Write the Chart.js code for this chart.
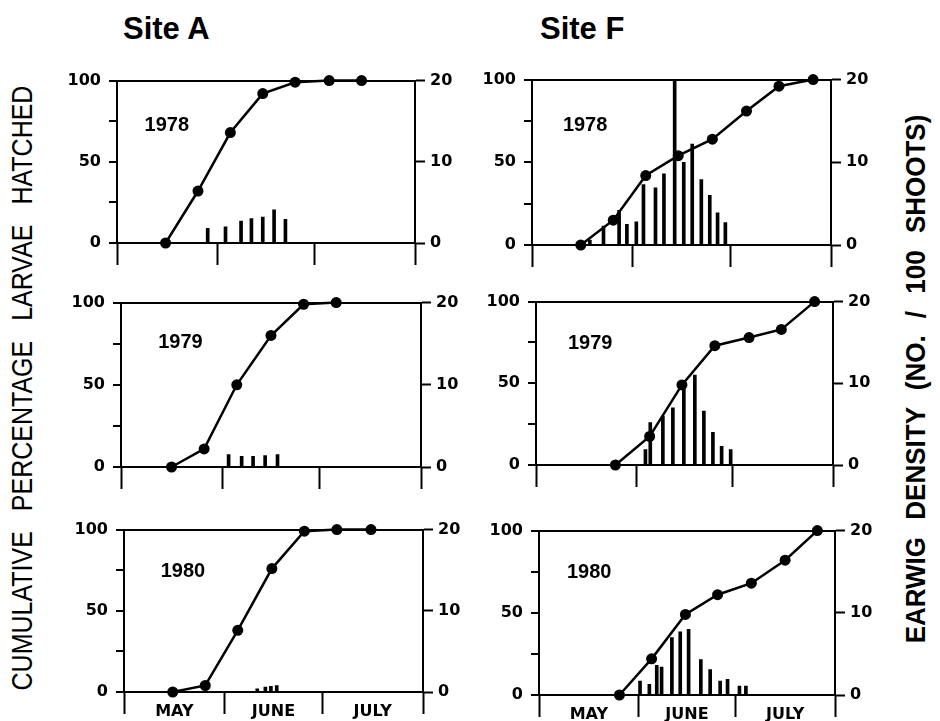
<!DOCTYPE html>
<html>
<head>
<meta charset="utf-8">
<script src="https://cdn.jsdelivr.net/npm/chart.js@4.4.1/dist/chart.umd.min.js"></script>
<style>
  body { margin: 0; background: #fff; }
  #page { position: relative; width: 940px; height: 721px; overflow: hidden; background: #fff;
          font-family: 'Liberation Sans', Arial, sans-serif; color: #000; }
  .panel { position: absolute; }
  .site { position: absolute; top: 11px; font-size: 31px; font-weight: bold; }
  .vtitle { position: absolute; white-space: pre; transform-origin: center center; }
</style>
</head>
<body>
<div id="page">
  <div class="site" style="left:123px">Site A</div>
  <div class="site" style="left:540px">Site F</div>
  <div class="vtitle" id="ltitle" style="font-size:25px; word-spacing:13px">CUMULATIVE PERCENTAGE LARVAE HATCHED</div>
  <div class="vtitle" id="rtitle" style="font-size:26px; font-weight:bold; word-spacing:10px">EARWIG DENSITY (NO. / 100 SHOOTS)</div>
</div>
<script>
// x axis is days after 1 May
const monthEdges = [0, 31, 61, 92];
const monthMid = [15.5, 46, 76.5];
const monthNames = ['MAY', 'JUNE', 'JULY'];
const pctTicks = [0, 25, 50, 75, 100];
const densTicks = [0, 10, 20];

// Site A - cumulative % larvae hatched
const a78Days = [15, 25, 35, 45, 55, 65.5, 75.5];
const a78Pct = [0, 32, 68, 92, 99, 100, 100];
const a79Days = [15.5, 25.5, 35.5, 46, 56, 66];
const a79Pct = [0, 11, 50, 80, 99, 100];
const a80Days = [15, 25, 35, 45.5, 55.5, 65.5, 76];
const a80Pct = [0, 4, 38, 76, 99, 100, 100];

// Site A - earwig density
const a78BarDays = [28, 33.5, 38.3, 41.5, 45, 48.5, 52];
const a78Density = [1.8, 2.0, 2.7, 3.0, 3.2, 4.1, 2.9];
const a79BarDays = [33, 37, 40.5, 44.2, 48];
const a79Density = [1.5, 1.3, 1.3, 1.4, 1.5];
const a80BarDays = [41, 43.5, 45.2, 47];
const a80Density = [0.4, 0.6, 0.7, 0.8];

// Site F - cumulative % larvae hatched
const f78Days = [15, 25, 35, 45, 55.5, 66, 76, 86.5];
const f78Pct = [0, 15, 42, 54, 64, 81, 96, 100];
const f79Days = [24.6, 35.2, 45.2, 55.4, 66, 76, 86.3];
const f79Pct = [0, 17.5, 49, 73, 78, 83, 100];
const f80Days = [25, 35, 45.5, 55.5, 66, 76.5, 86.5];
const f80Pct = [0, 22, 49, 61, 68, 82, 100];

// Site F - earwig density
const f78BarDays = [17.8, 22, 26.8, 29.2, 32.1, 34.3, 38, 40.6, 43.9, 46.7, 49.3, 52.1, 54.7, 57.1, 59.5];
const f78Density = [0.6, 2.3, 4.2, 2.5, 2.8, 7.3, 6.9, 8.6, 19.8, 10, 12.2, 7.9, 6.0, 3.9, 2.7];
const f79BarDays = [33.9, 35.4, 39.3, 42.4, 45.8, 49.2, 52, 54.8, 57.5, 60.3];
const f79Density = [1.9, 5.2, 6.0, 7.0, 9.5, 11.0, 6.6, 4.0, 2.3, 1.9];
const f80BarDays = [31.4, 34.3, 36.6, 38.1, 41.3, 43.9, 46.5, 50.3, 53.2, 56.3, 58.6, 62.3, 64.3];
const f80Density = [1.7, 1.3, 3.6, 3.4, 7.0, 7.7, 8.0, 4.3, 3.1, 1.7, 1.9, 1.1, 1.1];

// layout: plot box [left, top, right, bottom] in page pixels, year label at [day, %]
const panels = [
  { year: '1978', box: [117, 79, 415, 243], days: a78Days, pct: a78Pct, barDays: a78BarDays, density: a78Density, labelAt: [8.5, 72.5], months: false },
  { year: '1979', box: [121, 301, 421, 467], days: a79Days, pct: a79Pct, barDays: a79BarDays, density: a79Density, labelAt: [11.4, 76], months: false },
  { year: '1980', box: [124, 528, 423, 692], days: a80Days, pct: a80Pct, barDays: a80BarDays, density: a80Density, labelAt: [11.3, 74.5], months: true },
  { year: '1978', box: [532, 78, 831, 245], days: f78Days, pct: f78Pct, barDays: f78BarDays, density: f78Density, labelAt: [9.5, 72], months: false },
  { year: '1979', box: [536, 300, 833, 465], days: f79Days, pct: f79Pct, barDays: f79BarDays, density: f79Density, labelAt: [9.9, 74.5], months: false },
  { year: '1980', box: [539, 529, 835, 695], days: f80Days, pct: f80Pct, barDays: f80BarDays, density: f80Density, labelAt: [8.7, 74.7], months: true }
];

const tickFont = { family: 'DejaVu Sans', size: 16, weight: 'bold' };
const padL = 70, padR = 70, padT = 16, padB = 34;
const black = '#000', clear = 'rgba(0,0,0,0)';

// draws the year inside the plot
const yearLabel = {
  id: 'yearLabel',
  afterDatasetsDraw(chart, args, opts) {
    const ctx = chart.ctx;
    const x = chart.scales.x.getPixelForValue(opts.at[0]);
    const y = chart.scales.y.getPixelForValue(opts.at[1]);
    ctx.save();
    ctx.font = 'bold 20px "Liberation Sans", Arial, sans-serif';
    ctx.fillStyle = black;
    ctx.textAlign = 'left';
    ctx.textBaseline = 'middle';
    ctx.fillText(opts.text, x, y);
    ctx.restore();
  }
};

function tickVal(c) {
  return c && c.tick ? c.tick.value : null;
}

function makePanel(p) {
  const [l, t, r, b] = p.box;
  const wrap = document.createElement('div');
  wrap.className = 'panel';
  wrap.style.left = (l - padL) + 'px';
  wrap.style.top = (t - padT) + 'px';
  wrap.style.width = (r - l + padL + padR) + 'px';
  wrap.style.height = (b - t + padT + padB) + 'px';
  const canvas = document.createElement('canvas');
  wrap.appendChild(canvas);
  document.getElementById('page').appendChild(wrap);

  new Chart(canvas, {
    type: 'bar',
    data: {
      datasets: [{
        type: 'line',
        data: p.days.map((d, i) => ({ x: d, y: p.pct[i] })),
        yAxisID: 'y',
        borderColor: black,
        borderWidth: 2.5,
        pointRadius: 5.5,
        pointBackgroundColor: black,
        pointBorderWidth: 0,
        tension: 0,
        clip: false,
        order: 0
      }, {
        type: 'bar',
        data: p.barDays.map((d, i) => ({ x: d, y: p.density[i] })),
        yAxisID: 'y2',
        backgroundColor: black,
        barThickness: 3,
        order: 1
      }]
    },
    options: {
      responsive: true,
      maintainAspectRatio: false,
      animation: false,
      layout: { padding: { top: padT, left: 0, right: 0, bottom: 0 } },
      plugins: {
        legend: { display: false },
        tooltip: { enabled: false },
        yearLabel: { text: p.year, at: p.labelAt }
      },
      scales: {
        x: {
          type: 'linear',
          min: 0,
          max: 92,
          offset: false,
          afterBuildTicks: s => { s.ticks = [0, 15.5, 31, 46, 61, 76.5, 92].map(v => ({ value: v })); },
          afterFit: s => { s.height = padB; },
          ticks: {
            autoSkip: false,
            maxRotation: 0,
            padding: -12,
            color: black,
            font: tickFont,
            callback: v => {
              const i = monthMid.indexOf(v);
              return (p.months && i >= 0) ? monthNames[i] : '';
            }
          },
          grid: {
            offset: false,
            drawOnChartArea: false,
            tickLength: 22,
            tickWidth: 2,
            tickColor: c => monthEdges.includes(tickVal(c)) ? black : clear
          },
          border: { display: true, color: black, width: 2 }
        },
        y: {
          position: 'left',
          min: 0,
          max: 100,
          afterBuildTicks: s => { s.ticks = pctTicks.map(v => ({ value: v })); },
          afterFit: s => { s.width = padL; },
          ticks: {
            padding: 8,
            color: black,
            font: tickFont,
            callback: v => (v % 50 === 0 ? v : '')
          },
          grid: {
            color: c => (tickVal(c) === 0 || tickVal(c) === 100) ? black : clear,
            lineWidth: 2,
            tickLength: 8,
            tickWidth: 2,
            tickColor: black
          },
          border: { display: true, color: black, width: 2 }
        },
        y2: {
          position: 'right',
          min: 0,
          max: 20,
          afterBuildTicks: s => { s.ticks = densTicks.map(v => ({ value: v })); },
          afterFit: s => { s.width = padR; },
          ticks: { padding: 5, color: black, font: tickFont },
          grid: {
            drawOnChartArea: false,
            tickLength: 10,
            tickWidth: 2,
            tickColor: black
          },
          border: { display: true, color: black, width: 2 }
        }
      }
    },
    plugins: [yearLabel]
  });
}

panels.forEach(makePanel);

// rotated axis titles, centred on given points
function placeTitle(id, cx, cy, stretch) {
  const el = document.getElementById(id);
  el.style.left = cx + 'px';
  el.style.top = cy + 'px';
  el.style.transform = 'translate(-50%, -50%) rotate(-90deg) scaleY(' + stretch + ')';
}
placeTitle('ltitle', 22, 388, 1.2);
placeTitle('rtitle', 916, 379, 1.05);
</script>
</body>
</html>
